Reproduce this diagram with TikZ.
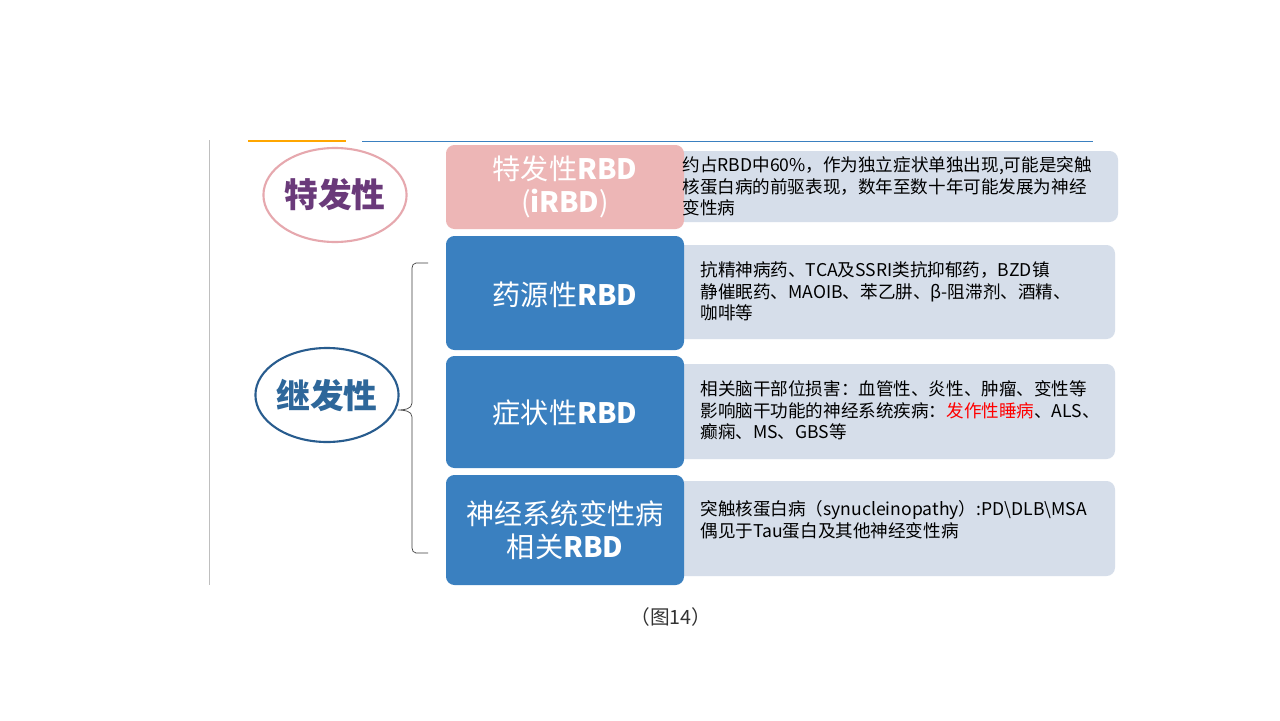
\documentclass[tikz,border=0pt]{standalone}
\usepackage{fontspec}
\usetikzlibrary{shapes.geometric}
\setmainfont{Liberation Sans}
\newfontfamily\cjk{Noto Sans CJK SC}
\begin{document}
\begin{tikzpicture}[x=1.4226pt,y=-1.4226pt,
  big/.style={text=white,font=\cjk\fontsize{40}{46}\selectfont,align=center},
  bbox/.style={fill=boxblue,rounded corners=12pt},
  gbox/.style={fill=boxgray,rounded corners=12pt},
  desc/.style={anchor=north west,font=\cjk\fontsize{25}{31}\selectfont,align=left},
  ell/.style={ellipse,minimum width=124*1.4226pt,minimum height=94*1.4226pt,line width=3pt,inner sep=0pt}]
\definecolor{boxblue}{HTML}{3A80C0}
\definecolor{boxgray}{HTML}{D6DEEA}
\definecolor{pinkb}{HTML}{EDB6B6}
\definecolor{pinkline}{HTML}{E6A8AE}
\definecolor{dblue}{HTML}{285C8E}
\definecolor{purp}{HTML}{6A3A7A}
\useasboundingbox (0,0) rectangle (1280,720);
\fill[white] (0,0) rectangle (1280,720);
\draw[gray!50,line width=1pt] (209,140) -- (209,585);
\draw[orange!70!yellow,line width=1.5pt] (248,141) -- (346,141);
\draw[boxblue,line width=1.2pt] (362,141) -- (1093,141);
% right gray boxes
\fill[gbox] (676,151) rectangle (1118,222);
\fill[gbox] (676,245) rectangle (1115,339);
\fill[gbox] (676,364) rectangle (1115,459);
\fill[gbox] (676,481) rectangle (1115,576);
% left boxes
\fill[pinkb,rounded corners=12pt] (446,145) rectangle (684,229);
\fill[bbox] (446,236) rectangle (684,350);
\fill[bbox] (446,356) rectangle (684,468);
\fill[bbox] (446,475) rectangle (684,585);
\node[big] (p1) at (565,187) {特发性\textbf{RBD}\\(\textbf{iRBD})};
\node[big] (p2) at (565,295) {药源性\textbf{RBD}};
\node[big] (p3) at (565,413) {症状性\textbf{RBD}};
\node[big] (p4) at (565,530) {神经系统变性病\\相关\textbf{RBD}};
\node[desc] (d1) at (680,154) {约占RBD中60\%，作为独立症状单独出现,可能是突触\\核蛋白病的前驱表现，数年至数十年可能发展为神经\\变性病};
\node[desc] (d2) at (698,259) {抗精神病药、TCA及SSRI类抗抑郁药，BZD镇\\静催眠药、MAOIB、苯乙肼、β-阻滞剂、酒精、\\咖啡等};
\node[desc] (d3) at (698,378) {相关脑干部位损害：血管性、炎性、肿瘤、变性等\\影响脑干功能的神经系统疾病：\textcolor{red}{发作性睡病}、ALS、\\癫痫、MS、GBS等};
\node[desc] (d4) at (698,498) {突触核蛋白病（synucleinopathy）:PD\textbackslash DLB\textbackslash MSA\\偶见于Tau蛋白及其他神经变性病};
% ellipses
\node[ell,draw=pinkline,text=purp,font=\cjk\bfseries\fontsize{48}{54}\selectfont] (e1) at (335,195) {特发性};
\node[ell,draw=dblue,text=boxblue!80!black,font=\cjk\bfseries\fontsize{48}{54}\selectfont,minimum width=120*1.4226pt] (e2) at (327,395) {继发性};
% brace
\coordinate (bt) at (428,263);
\coordinate (bb) at (428,553);
\coordinate (tip) at (398,410);
\draw[black!75,line width=1pt] (bt) -- (416,263) to[out=180,in=90] (412,268) -- (412,403) to[out=-90,in=0] (tip) to[out=0,in=90] (412,417) -- (412,548) to[out=-90,in=180] (416,553) -- (bb);
\node[font=\cjk\fontsize{28}{32}\selectfont,text=black!80] (cap) at (671,617) {（图14）};
\end{tikzpicture}
\end{document}
